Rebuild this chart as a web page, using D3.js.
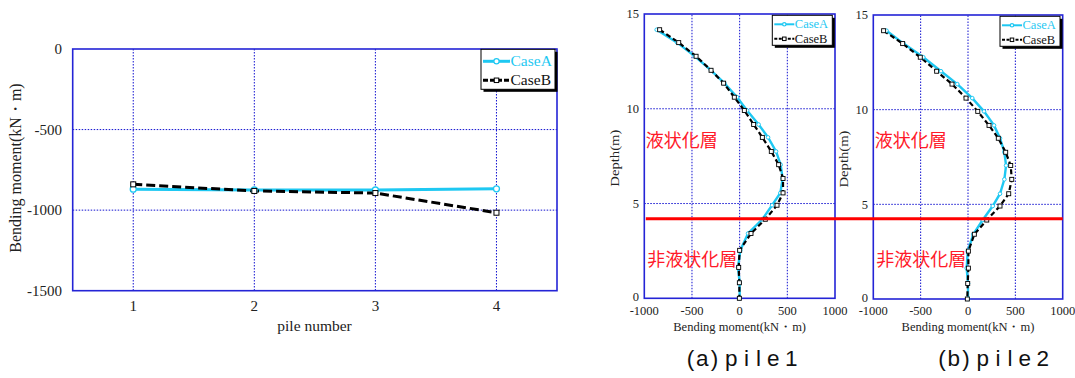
<!DOCTYPE html>
<html><head><meta charset="utf-8">
<script src="https://cdn.jsdelivr.net/npm/d3@7"></script>
<style>body{margin:0;background:#fff}svg{display:block}</style>
</head><body>
<svg id="c" width="1075" height="378"></svg>
<script>
// ---- data ----
const pileNumbers = [1, 2, 3, 4];
const caseAEnd = [-870, -875, -875, -868];
const caseBEnd = [-840, -881, -894, -1016];

const depths = [14.17, 13.49, 12.77, 12.03, 11.35, 10.61, 9.91, 9.17, 8.49, 7.75, 7.05, 6.32, 5.56, 4.91, 4.17, 3.42, 2.53, 1.63, 0.82, 0];
const pile1A = [-870, -655, -470, -300, -160, -27, 78, 199, 298, 382, 430, 451, 427, 340, 238, 88, 7, -17, 0, 0];
const pile1B = [-839, -639, -457, -300, -168, -56, 49, 147, 238, 332, 409, 455, 455, 392, 269, 119, 0, -10, -3, -3];
const pile2A = [-860, -680, -472, -285, -113, 45, 169, 275, 338, 384, 402, 384, 338, 261, 155, 56, -3, -14, 0, 0];
const pile2B = [-891, -690, -504, -331, -169, -21, 103, 222, 320, 398, 451, 462, 430, 338, 198, 67, 4, 4, -3, -7];

const leftYTicks = [0, -500, -1000, -1500];
const leftXTicks = [1, 2, 3, 4];
const momentTicks = [-1000, -500, 0, 500, 1000];
const depthTicks = [0, 5, 10, 15];
const liquefactionDepth = 4.2;
const seriesNames = ["CaseA", "CaseB"];

// ---- styles ----
const CYAN = "#1ec8f2", BLUE = "#2424d6", GRID = "#1010d0";
const SERIF = "'Liberation Serif','Times New Roman',serif";
const svg = d3.select("#c");

function frameAndGrid(x, y, xt, yt) {
  const [x0, x1] = x.range(), [y0, y1] = y.range();
  const g = svg.append("g");
  g.selectAll(".gx").data(xt).join("line")
    .attr("x1", d => x(d)).attr("x2", d => x(d)).attr("y1", y0).attr("y2", y1)
    .attr("stroke", GRID).attr("stroke-width", 1).attr("stroke-dasharray", "1.5,1.5");
  g.selectAll(".gy").data(yt).join("line")
    .attr("y1", d => y(d)).attr("y2", d => y(d)).attr("x1", x0).attr("x2", x1)
    .attr("stroke", GRID).attr("stroke-width", 1).attr("stroke-dasharray", "1.5,1.5");
  g.append("rect").attr("x", Math.min(x0, x1)).attr("y", Math.min(y0, y1))
    .attr("width", Math.abs(x1 - x0)).attr("height", Math.abs(y1 - y0))
    .attr("fill", "none").attr("stroke", BLUE).attr("stroke-width", 1.6);
  return g;
}

function legend(x, y, w, h, fs, lineW, dash, rowGap, sampleLen, mr, ms) {
  const g = svg.append("g");
  g.append("rect").attr("x", x + 2.5).attr("y", y + 2.5).attr("width", w).attr("height", h).attr("fill", "#000");
  g.append("rect").attr("x", x).attr("y", y).attr("width", w).attr("height", h).attr("fill", "#fff").attr("stroke", "#000").attr("stroke-width", 1);
  const r1 = y + h * 0.3, r2 = r1 + rowGap;
  const sx = x + 2, ex = x + 2 + sampleLen;
  g.append("line").attr("x1", sx).attr("x2", ex).attr("y1", r1).attr("y2", r1).attr("stroke", CYAN).attr("stroke-width", lineW);
  g.append("circle").attr("cx", (sx + ex) / 2).attr("cy", r1).attr("r", mr).attr("fill", "#fff").attr("stroke", CYAN).attr("stroke-width", 1.2);
  g.append("line").attr("x1", sx).attr("x2", ex).attr("y1", r2).attr("y2", r2).attr("stroke", "#000").attr("stroke-width", lineW).attr("stroke-dasharray", dash);
  g.append("rect").attr("x", (sx + ex) / 2 - ms / 2).attr("y", r2 - ms / 2).attr("width", ms).attr("height", ms).attr("fill", "#fff").attr("stroke", "#000").attr("stroke-width", 1);
  g.append("text").attr("x", ex + 0.5).attr("y", r1).attr("dy", "0.33em").attr("font-family", SERIF).attr("font-size", fs).attr("fill", CYAN).text(seriesNames[0]);
  g.append("text").attr("x", ex + 0.5).attr("y", r2).attr("dy", "0.33em").attr("font-family", SERIF).attr("font-size", fs).attr("fill", "#111").text(seriesNames[1]);
}

// ---- left panel ----
const xL = d3.scaleLinear().domain([0.5, 4.5]).range([72.7, 557]);
const yL = d3.scaleLinear().domain([0, -1500]).range([49, 290.7]);
frameAndGrid(xL, yL, leftXTicks, [-500, -1000]);

svg.append("g").selectAll("text").data(leftYTicks).join("text")
  .attr("x", 62).attr("y", d => yL(d)).attr("dy", "0.35em").attr("text-anchor", "end")
  .attr("font-family", SERIF).attr("font-size", 15).attr("fill", "#222").text(d => d);
svg.append("g").selectAll("text").data(leftXTicks).join("text")
  .attr("x", d => xL(d)).attr("y", 311).attr("text-anchor", "middle")
  .attr("font-family", SERIF).attr("font-size", 15).attr("fill", "#222").text(d => d);
svg.append("text").attr("x", 314.5).attr("y", 331).attr("text-anchor", "middle")
  .attr("font-family", SERIF).attr("font-size", 15.5).attr("fill", "#222").text("pile number");
svg.append("text").attr("transform", "translate(21,168) rotate(-90)").attr("text-anchor", "middle")
  .attr("font-family", SERIF).attr("font-size", 16).attr("fill", "#222").text("Bending moment(kN・m)");

const lineL = d3.line().x((d, i) => xL(pileNumbers[i])).y(d => yL(d));
svg.append("path").attr("d", lineL(caseAEnd)).attr("fill", "none").attr("stroke", CYAN).attr("stroke-width", 3);
svg.append("path").attr("d", lineL(caseBEnd)).attr("fill", "none").attr("stroke", "#000").attr("stroke-width", 3).attr("stroke-dasharray", "9,4");
svg.append("g").selectAll("circle").data(caseAEnd).join("circle")
  .attr("cx", (d, i) => xL(pileNumbers[i])).attr("cy", d => yL(d)).attr("r", 3)
  .attr("fill", "#fff").attr("stroke", CYAN).attr("stroke-width", 1.3);
svg.append("g").selectAll("rect").data(caseBEnd).join("rect")
  .attr("x", (d, i) => xL(pileNumbers[i]) - 2.5).attr("y", d => yL(d) - 2.5).attr("width", 5).attr("height", 5)
  .attr("fill", "#fff").attr("stroke", "#000").attr("stroke-width", 1);
legend(481, 49.3, 74, 40, 15.5, 3, "5,2", 19, 27, 2.6, 4.5);

// caption glyph offsets (layout of the spaced caption text)
const capOffsets = [0, 9.3, 24, 38.3, 57.3, 69.3, 80.3, 98.3];

// ---- depth panels ----
function depthPanel(x, y, A, B, yTickX, depthTitleX, caption, capX) {
  frameAndGrid(x, y, momentTicks.slice(1, -1), depthTicks.slice(1, -1));
  svg.append("g").selectAll("text").data(depthTicks).join("text")
    .attr("x", yTickX).attr("y", d => y(d) - (d === 0 ? 1.5 : 0)).attr("dy", "0.35em").attr("text-anchor", "end")
    .attr("font-family", SERIF).attr("font-size", 12.5).attr("fill", "#222").text(d => d);
  svg.append("g").selectAll("text").data(momentTicks).join("text")
    .attr("x", d => x(d)).attr("y", 314.5).attr("text-anchor", "middle")
    .attr("font-family", SERIF).attr("font-size", 12.5).attr("fill", "#222").text(d => d);
  svg.append("text").attr("x", x(0)).attr("y", 331).attr("text-anchor", "middle")
    .attr("font-family", SERIF).attr("font-size", 12.5).attr("fill", "#222").text("Bending moment(kN・m)");
  svg.append("text").attr("transform", `translate(${depthTitleX + 4},${(y.range()[0] + y.range()[1]) / 2 + 2}) rotate(-90)`)
    .attr("text-anchor", "middle").attr("font-family", SERIF).attr("font-size", 12.5)
    .attr("textLength", 57).attr("lengthAdjust", "spacingAndGlyphs").attr("fill", "#222").text("Depth(m)");
  const ln = d3.line().x(d => x(d[0])).y(d => y(d[1]));
  const pa = A.map((v, i) => [v, depths[i]]), pb = B.map((v, i) => [v, depths[i]]);
  svg.append("path").attr("d", ln(pa)).attr("fill", "none").attr("stroke", CYAN).attr("stroke-width", 2.4);
  svg.append("path").attr("d", ln(pb)).attr("fill", "none").attr("stroke", "#000").attr("stroke-width", 2.2).attr("stroke-dasharray", "5,3");
  svg.append("g").selectAll("circle").data(pa).join("circle")
    .attr("cx", d => x(d[0])).attr("cy", d => y(d[1])).attr("r", 1.8)
    .attr("fill", "#fff").attr("stroke", CYAN).attr("stroke-width", 1);
  svg.append("g").selectAll("rect").data(pb).join("rect")
    .attr("x", d => x(d[0]) - 2).attr("y", d => y(d[1]) - 2).attr("width", 4).attr("height", 4)
    .attr("fill", "#fff").attr("stroke", "#000").attr("stroke-width", 0.9);
  legend(x.range()[1] - 62.7, y.range()[1] + 1.3, 60, 30, 12.5, 2, "3,1.5", 14.5, 20, 1.7, 3.5);
  svg.append("text").attr("x", x.range()[0] + 1.5).attr("y", 147).attr("font-family", "'Noto Sans CJK JP',sans-serif")
    .attr("font-size", 18).attr("fill", "#ff1a2a").text("液状化層");
  svg.append("text").attr("x", x.range()[0] + 3).attr("y", 266).attr("font-family", "'Noto Sans CJK JP',sans-serif")
    .attr("font-size", 18).attr("fill", "#ff1a2a").text("非液状化層");
  svg.append("text").attr("x", capOffsets.map(o => (capX + o).toFixed(1)).join(" ")).attr("y", 366)
    .attr("font-family", "'Liberation Sans',Arial,sans-serif")
    .attr("font-size", 22.5).attr("fill", "#111").text(caption);
}

const xM = d3.scaleLinear().domain([-1000, 1000]).range([644.3, 835]);
const yM = d3.scaleLinear().domain([0, 15]).range([298.3, 14]);
const xR = d3.scaleLinear().domain([-1000, 1000]).range([873.3, 1062.7]);
const yR = d3.scaleLinear().domain([0, 15]).range([299, 15]);
depthPanel(xM, yM, pile1A, pile1B, 639, 615, "(a)pile1", 686.7);
depthPanel(xR, yR, pile2A, pile2B, 868, 843.5, "(b)pile2", 938.3);

// red liquefaction boundary
svg.append("line").attr("x1", xM(-1000) + 1.5).attr("x2", xR(1000)).attr("y1", yM(liquefactionDepth)).attr("y2", yM(liquefactionDepth))
  .attr("stroke", "#ff0000").attr("stroke-width", 3);
</script>
</body></html>
